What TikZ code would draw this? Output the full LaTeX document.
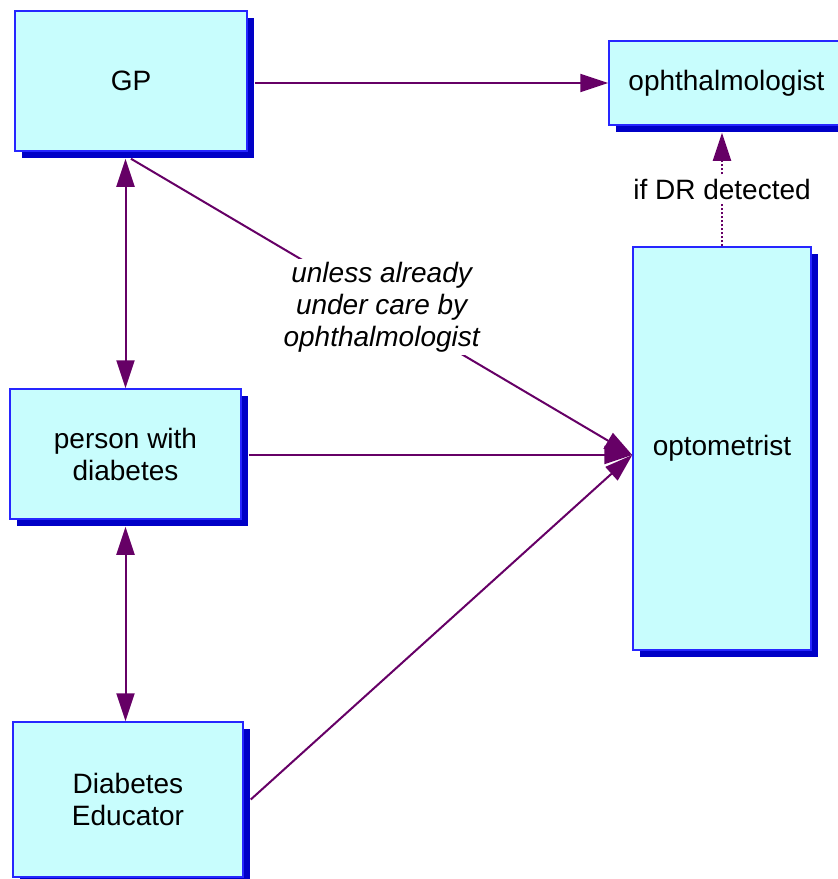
\documentclass[tikz,border=0pt]{standalone}
\usepackage{fontspec}
\setmainfont{Liberation Sans}
\usetikzlibrary{arrows.meta,shadows}

\newlength{\du}
\setlength{\du}{0.5pt}

\definecolor{boxfill}{rgb}{0.784314, 0.992157, 0.992157}
\definecolor{boxline}{rgb}{0.150000, 0.150000, 1.000000}
\definecolor{shadowblue}{rgb}{0.000000, 0.000000, 0.780000}
\definecolor{arrowpurple}{rgb}{0.400000, 0.000000, 0.400000}

\tikzset{
  careBox/.style={draw=boxline, fill=boxfill, line width=1.5\du, inner sep=0pt,
    drop shadow={shadow xshift=7\du, shadow yshift=-7\du, fill=shadowblue, opacity=1},
    align=center, font=\fontsize{14}{16}\selectfont},
  careArrow/.style={draw=arrowpurple, line width=2\du, -{Triangle[length=14pt,width=9pt]}},
  careBoth/.style={draw=arrowpurple, line width=2\du,
    {Triangle[length=14pt,width=9pt]}-{Triangle[length=14pt,width=9pt]}},
  careDots/.style={line width=2\du, dash pattern=on 1pt off 1pt},
  careNote/.style={fill=white, inner sep=3\du, align=center,
    font=\fontsize{14}{16}\selectfont\itshape},
  careTag/.style={fill=white, inner sep=3\du, font=\fontsize{14}{16}\selectfont}
}

\begin{document}
\begin{tikzpicture}[x=1\du,y=-1\du]
\useasboundingbox (0,0) rectangle (838,879);

% boxes
\node[careBox, minimum width=232\du, minimum height=140\du] (gp) at (131,81) {GP};
\node[careBox, minimum width=235\du, minimum height=84\du] (oph) at (726.5,83) {ophthalmologist};
\node[careBox, minimum width=178\du, minimum height=403\du] (opt) at (722,448.5) {optometrist};
\node[careBox, minimum width=231\du, minimum height=130\du] (pwd) at (125.5,454) {person with\\diabetes};
\node[careBox, minimum width=230\du, minimum height=155\du] (edu) at (128,799.5) {Diabetes\\Educator};

% ends just past the shadows
\coordinate (gpRight) at ([xshift=7\du]gp.east);
\coordinate (gpLow) at ([yshift=-7\du]gp.south);
\coordinate (pwdRight) at ([xshift=7\du]pwd.east);
\coordinate (pwdLow) at ([yshift=-7\du]pwd.south);
\coordinate (eduRight) at ([xshift=7\du]edu.east);
\coordinate (ophLow) at ([yshift=-7\du]oph.south);
% arrows meet here
\coordinate (optIn) at ([yshift=-6.5\du]opt.west);

\draw[careArrow] (gpRight |- oph.west) -- (oph.west);
\draw[careBoth] (gpLow -| pwd.north) -- (pwd.north);
\draw[careBoth] (pwdLow) -- (pwdLow |- edu.north);
\draw[careArrow] (gpLow) -- node[careNote] {unless already\\under care by\\ophthalmologist} (optIn);
\draw[careArrow] (pwdRight |- optIn) -- (optIn);
\draw[careArrow] (eduRight) -- (optIn);
\draw[careArrow, careDots] (opt.north) -- node[careTag] {if DR detected} (opt.north |- ophLow);
\end{tikzpicture}
\end{document}
